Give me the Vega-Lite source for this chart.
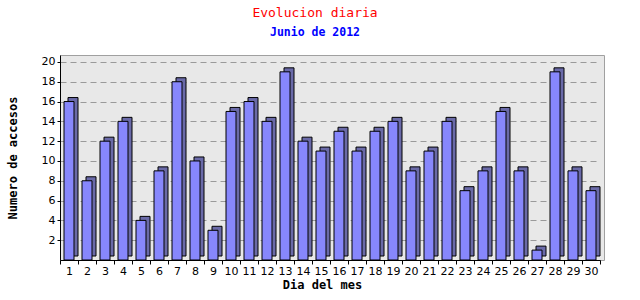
{
  "$schema": "https://vega.github.io/schema/vega-lite/v6.json",
  "autosize": "none",
  "width": 544,
  "height": 205,
  "padding": {"left": 60, "top": 55, "right": 36, "bottom": 40},
  "background": "white",
  "title": {
    "text": "Evolucion diaria",
    "subtitle": "Junio de 2012",
    "anchor": "middle",
    "frame": "group",
    "dx": -17,
    "offset": 17,
    "font": "DejaVu Sans Mono",
    "fontSize": 13,
    "fontWeight": "normal",
    "color": "#ff0000",
    "subtitleFont": "DejaVu Sans Mono",
    "subtitleFontSize": 11.5,
    "subtitleFontWeight": "bold",
    "subtitleColor": "#0000ff",
    "subtitlePadding": 7
  },
  "config": {
    "view": {"fill": "#e8e8e8", "stroke": "#a0a0a0", "strokeWidth": 1},
    "axis": {"labelFont": "DejaVu Sans", "labelFontSize": 11, "labelColor": "#000000", "titleFont": "DejaVu Sans Mono", "titleFontSize": 12, "titleFontWeight": "bold", "titleColor": "#000000", "domainColor": "#000000", "tickColor": "#000000"}
  },
  "data": {
    "values": [
      {"dia": 1, "accesos": 16}, {"dia": 2, "accesos": 8}, {"dia": 3, "accesos": 12},
      {"dia": 4, "accesos": 14}, {"dia": 5, "accesos": 4}, {"dia": 6, "accesos": 9},
      {"dia": 7, "accesos": 18}, {"dia": 8, "accesos": 10}, {"dia": 9, "accesos": 3},
      {"dia": 10, "accesos": 15}, {"dia": 11, "accesos": 16}, {"dia": 12, "accesos": 14},
      {"dia": 13, "accesos": 19}, {"dia": 14, "accesos": 12}, {"dia": 15, "accesos": 11},
      {"dia": 16, "accesos": 13}, {"dia": 17, "accesos": 11}, {"dia": 18, "accesos": 13},
      {"dia": 19, "accesos": 14}, {"dia": 20, "accesos": 9}, {"dia": 21, "accesos": 11},
      {"dia": 22, "accesos": 14}, {"dia": 23, "accesos": 7}, {"dia": 24, "accesos": 9},
      {"dia": 25, "accesos": 15}, {"dia": 26, "accesos": 9}, {"dia": 27, "accesos": 1},
      {"dia": 28, "accesos": 19}, {"dia": 29, "accesos": 9}, {"dia": 30, "accesos": 7}
    ]
  },
  "encoding": {
    "x": {
      "field": "dia", "type": "ordinal",
      "scale": {"range": [0, 540], "paddingInner": 0, "paddingOuter": 0},
      "axis": {"title": "Dia del mes", "labelAngle": 0, "tickBand": "extent", "tickSize": 4, "labelPadding": 1, "titlePadding": 3, "titleX": 262, "grid": false}
    },
    "y": {
      "field": "accesos", "type": "quantitative",
      "scale": {"domain": [0, 20.7], "nice": false},
      "axis": {"title": "Numero de accesos", "values": [2, 4, 6, 8, 10, 12, 14, 16, 18, 20], "tickSize": 3, "labelPadding": 2, "titlePadding": 22, "grid": true, "gridColor": "#9a9a9a", "gridDash": [6, 4], "gridWidth": 1}
    }
  },
  "layer": [
    {"mark": {"type": "bar", "size": 10, "xOffset": 4, "yOffset": -4, "color": "#6a6aa8", "stroke": "#000000", "strokeWidth": 1}},
    {"mark": {"type": "bar", "size": 10, "xOffset": 0, "color": "#8787fc", "stroke": "#000000", "strokeWidth": 1}}
  ]
}
